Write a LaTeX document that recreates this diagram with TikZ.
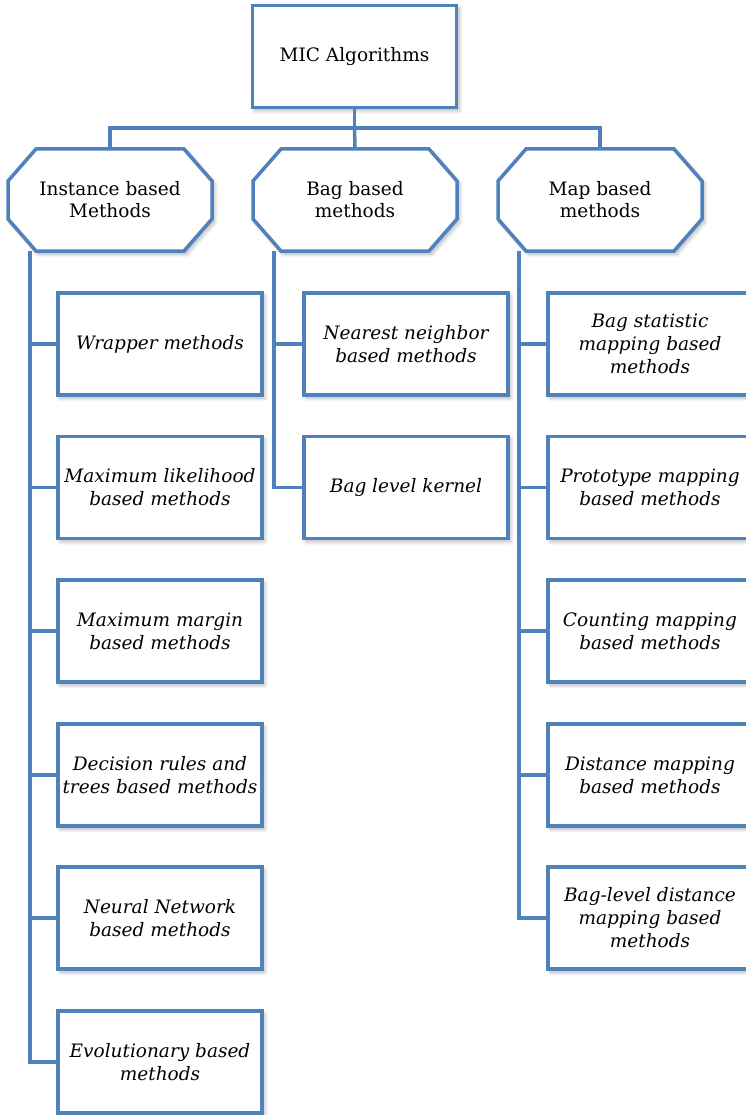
\documentclass[tikz,border=0pt]{standalone}
\usepackage{fontspec}
\setmainfont{DejaVu Serif}
\usetikzlibrary{shadows.blur}
\definecolor{micblue}{RGB}{79,129,189}

\tikzset{
  link/.style={draw=micblue, line width=3.5pt},
  soft/.style={blur shadow={shadow xshift=2.5pt, shadow yshift=-3pt,
    shadow blur steps=8, shadow blur radius=4pt, shadow opacity=30}},
  leaf/.style={draw=micblue, line width=3.5pt, fill=white, soft,
    minimum width=204pt, minimum height=102pt, align=center,
    font=\fontsize{18.5}{23}\selectfont\itshape},
  root/.style={leaf, font=\fontsize{18.5}{22}\selectfont},
  family/.style={minimum width=204pt, minimum height=102pt, outer sep=0pt,
    align=center, font=\fontsize{18.5}{22}\selectfont},
  % octagon drawn under a family node
  pics/octframe/.style={code={
    \draw [link, fill=white, soft] (-74,-51) -- (74,-51) -- (102,-19)
      -- (102,19) -- (74,51) -- (-74,51) -- (-102,19) -- (-102,-19) -- cycle;}},
}

\begin{document}
\begin{tikzpicture}[x=1pt, y=-1pt]
  \useasboundingbox (0,0) rectangle (746,1115);
  \clip (0,0) rectangle (746,1115);

  % Root and families
  \node [root] (top) at (354.5,56.5) {MIC Algorithms};
  \pic at (110,200) {octframe};
  \pic at (355,200) {octframe};
  \pic at (600,200) {octframe};
  \node [family] (inst) at (110,200) {Instance based\\Methods};
  \node [family] (bag)  at (355,200) {Bag based\\methods};
  \node [family] (map)  at (600,200) {Map based\\methods};

  % Instance based
  \node [leaf] (i1) at (160,344)   {Wrapper methods};
  \node [leaf] (i2) at (160,487.5) {Maximum likelihood\\based methods};
  \node [leaf] (i3) at (160,631)   {Maximum margin\\based methods};
  \node [leaf] (i4) at (160,775)   {Decision rules and\\trees based methods};
  \node [leaf] (i5) at (160,918)   {Neural Network\\based methods};
  \node [leaf] (i6) at (160,1062)  {Evolutionary based\\methods};

  % Bag based
  \node [leaf] (b1) at (406,344)   {Nearest neighbor\\based methods};
  \node [leaf] (b2) at (406,487.5) {Bag level kernel};

  % Map based
  \node [leaf] (m1) at (650,344)   {Bag statistic\\mapping based\\methods};
  \node [leaf] (m2) at (650,487.5) {Prototype mapping\\based methods};
  \node [leaf] (m3) at (650,631)   {Counting mapping\\based methods};
  \node [leaf] (m4) at (650,775)   {Distance mapping\\based methods};
  \node [leaf] (m5) at (650,918)   {Bag-level distance\\mapping based\\methods};

  % Trunks
  \coordinate (bar) at (354.5,128);
  \coordinate (itrunk) at (30,0);
  \coordinate (btrunk) at (274,0);
  \coordinate (mtrunk) at (519,0);

  \draw [link] (top.south) -- (bar);
  \draw [link] (inst.north) |- (bar) -| (map.north);
  \draw [link] (bar) -- (bag.north);

  \draw [link] (inst.south -| itrunk) |- (i6.west);
  \draw [link] (i1.west -| itrunk) -- (i1.west);
  \draw [link] (i2.west -| itrunk) -- (i2.west);
  \draw [link] (i3.west -| itrunk) -- (i3.west);
  \draw [link] (i4.west -| itrunk) -- (i4.west);
  \draw [link] (i5.west -| itrunk) -- (i5.west);

  \draw [link] (bag.south -| btrunk) |- (b2.west);
  \draw [link] (b1.west -| btrunk) -- (b1.west);

  \draw [link] (map.south -| mtrunk) |- (m5.west);
  \draw [link] (m1.west -| mtrunk) -- (m1.west);
  \draw [link] (m2.west -| mtrunk) -- (m2.west);
  \draw [link] (m3.west -| mtrunk) -- (m3.west);
  \draw [link] (m4.west -| mtrunk) -- (m4.west);
\end{tikzpicture}
\end{document}
